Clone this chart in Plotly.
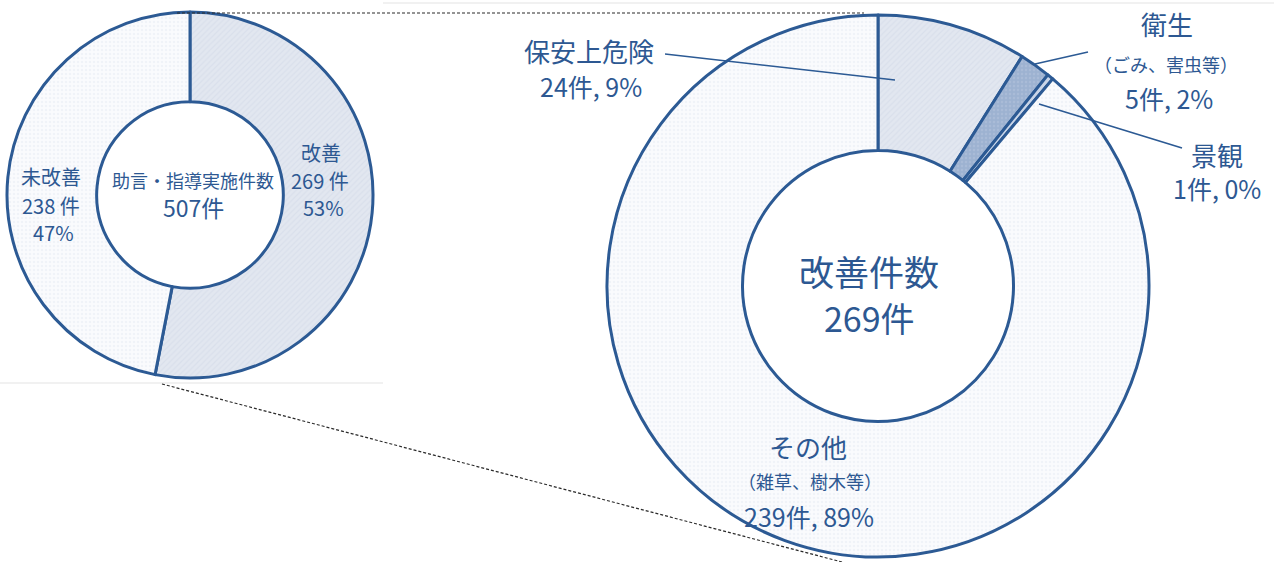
import plotly.graph_objects as go

# ---- data ----
total_labels = ["改善", "未改善"]
total_values = [269, 238]

detail_labels = ["保安上危険", "衛生", "景観", "その他"]
detail_notes = ["", "（ごみ、害虫等）", "", "（雑草、樹木等）"]
detail_values = [24, 5, 1, 239]

W, H = 1274, 562
FONT = "Noto Sans CJK JP, Noto Sans, sans-serif"
TXT = "#2d5892"
EDGE = "#2c5a94"


def px(x, y):
    """pixel position -> paper coordinates"""
    return x / W, 1 - y / H


def pct(v, tot):
    return f"{round(100 * v / tot)}%"


fig = go.Figure()

# left donut: all advice / guidance cases
lx0, ly1 = px(7, 12)
lx1, ly0 = px(373, 378)
fig.add_trace(go.Pie(
    labels=total_labels, values=total_values,
    hole=0.51, sort=False, direction="clockwise", rotation=0,
    textinfo="none", hoverinfo="skip", showlegend=False,
    domain=dict(x=[lx0, lx1], y=[ly0, ly1]),
    marker=dict(
        colors=["#dfe5ef", "#f7f8fb"],
        line=dict(color=EDGE, width=3),
        pattern=dict(shape=["/", "."], bgcolor=["#e2e7f0", "#fafbfd"],
                     fgcolor=["#d0d8e6", "#e6eaf2"], size=4, solidity=0.3,
                     fillmode="overlay"),
    ),
))

# right donut: breakdown of improved cases
rx0, ry1 = px(607, 15)
rx1, ry0 = px(1149, 557)
fig.add_trace(go.Pie(
    labels=detail_labels, values=detail_values,
    hole=0.5, sort=False, direction="clockwise", rotation=0,
    textinfo="none", hoverinfo="skip", showlegend=False,
    domain=dict(x=[rx0, rx1], y=[ry0, ry1]),
    marker=dict(
        colors=["#dfe5ef", "#9bb0d0", "#c9d5e8", "#f7f8fb"],
        line=dict(color=EDGE, width=3),
        pattern=dict(shape=["/", ".", "", "."],
                     bgcolor=["#e2e7f0", "#9db2d1", "#c9d5e8", "#fafbfd"],
                     fgcolor=["#d0d8e6", "#b4c4dc", "#c9d5e8", "#e6eaf2"],
                     size=4, solidity=0.3, fillmode="overlay"),
    ),
))

shapes = []


def seg(x0, y0, x1, y1, color, width=1.5, dash="solid"):
    a, b = px(x0, y0)
    c, d = px(x1, y1)
    shapes.append(dict(type="line", xref="paper", yref="paper",
                       x0=a, y0=b, x1=c, y1=d,
                       line=dict(color=color, width=width, dash=dash)))


# frame hairlines
seg(383, 3, 1274, 3, "#e4e4e4", 1.2)
seg(0, 383, 383, 383, "#e4e4e4", 1.2)
# zoom connectors between the two donuts
seg(177, 13, 864, 13, "#2a2a2a", 1.2, "3px,2px")
seg(162, 384, 842, 562, "#2a2a2a", 1.2, "3px,2px")
# leader lines
seg(665, 54, 895, 80, EDGE, 1.5)
seg(1035, 64, 1088, 52, EDGE, 1.5)
seg(1039, 104, 1182, 148, EDGE, 1.5)

annotations = []


def note(x, y, text, size):
    a, b = px(x, y)
    annotations.append(dict(x=a, y=b, xref="paper", yref="paper", text=text,
                            showarrow=False, xanchor="center", yanchor="middle",
                            font=dict(family=FONT, size=size, color=TXT)))


tot_all = sum(total_values)
tot_imp = sum(detail_values)

# left donut texts
note(193, 180, "助言・指導実施件数", 18)
note(193, 207, f"{tot_all}件", 23)
note(321, 152, total_labels[0], 20)
note(320, 180, f"{total_values[0]} 件", 20)
note(323, 207, pct(total_values[0], tot_all), 20)
note(51, 177, total_labels[1], 20)
note(51, 205, f"{total_values[1]} 件", 20)
note(53, 232, pct(total_values[1], tot_all), 20)

# right donut centre
note(869, 270, "改善件数", 35)
note(869, 317, f"{tot_imp}件", 34)

# right donut slice labels
label_pos = [
    [(589, 51, 26), None, (591, 86, 25)],
    [(1167, 24, 26), (1166, 64, 18), (1169, 98, 25)],
    [(1217, 154, 26), None, (1217, 188, 25)],
    [(808, 446, 26), (810, 481, 18), (809, 516, 25)],
]
for lab, nt, v, pos in zip(detail_labels, detail_notes, detail_values, label_pos):
    (x1, y1, s1), n, (x3, y3, s3) = pos
    note(x1, y1, lab, s1)
    if n and nt:
        note(n[0], n[1], nt, n[2])
    note(x3, y3, f"{v}件, {pct(v, tot_imp)}", s3)

fig.update_layout(
    width=W, height=H,
    margin=dict(l=0, r=0, t=0, b=0),
    paper_bgcolor="white", plot_bgcolor="white",
    shapes=shapes, annotations=annotations,
    showlegend=False,
)

fig.write_html("out.html")
